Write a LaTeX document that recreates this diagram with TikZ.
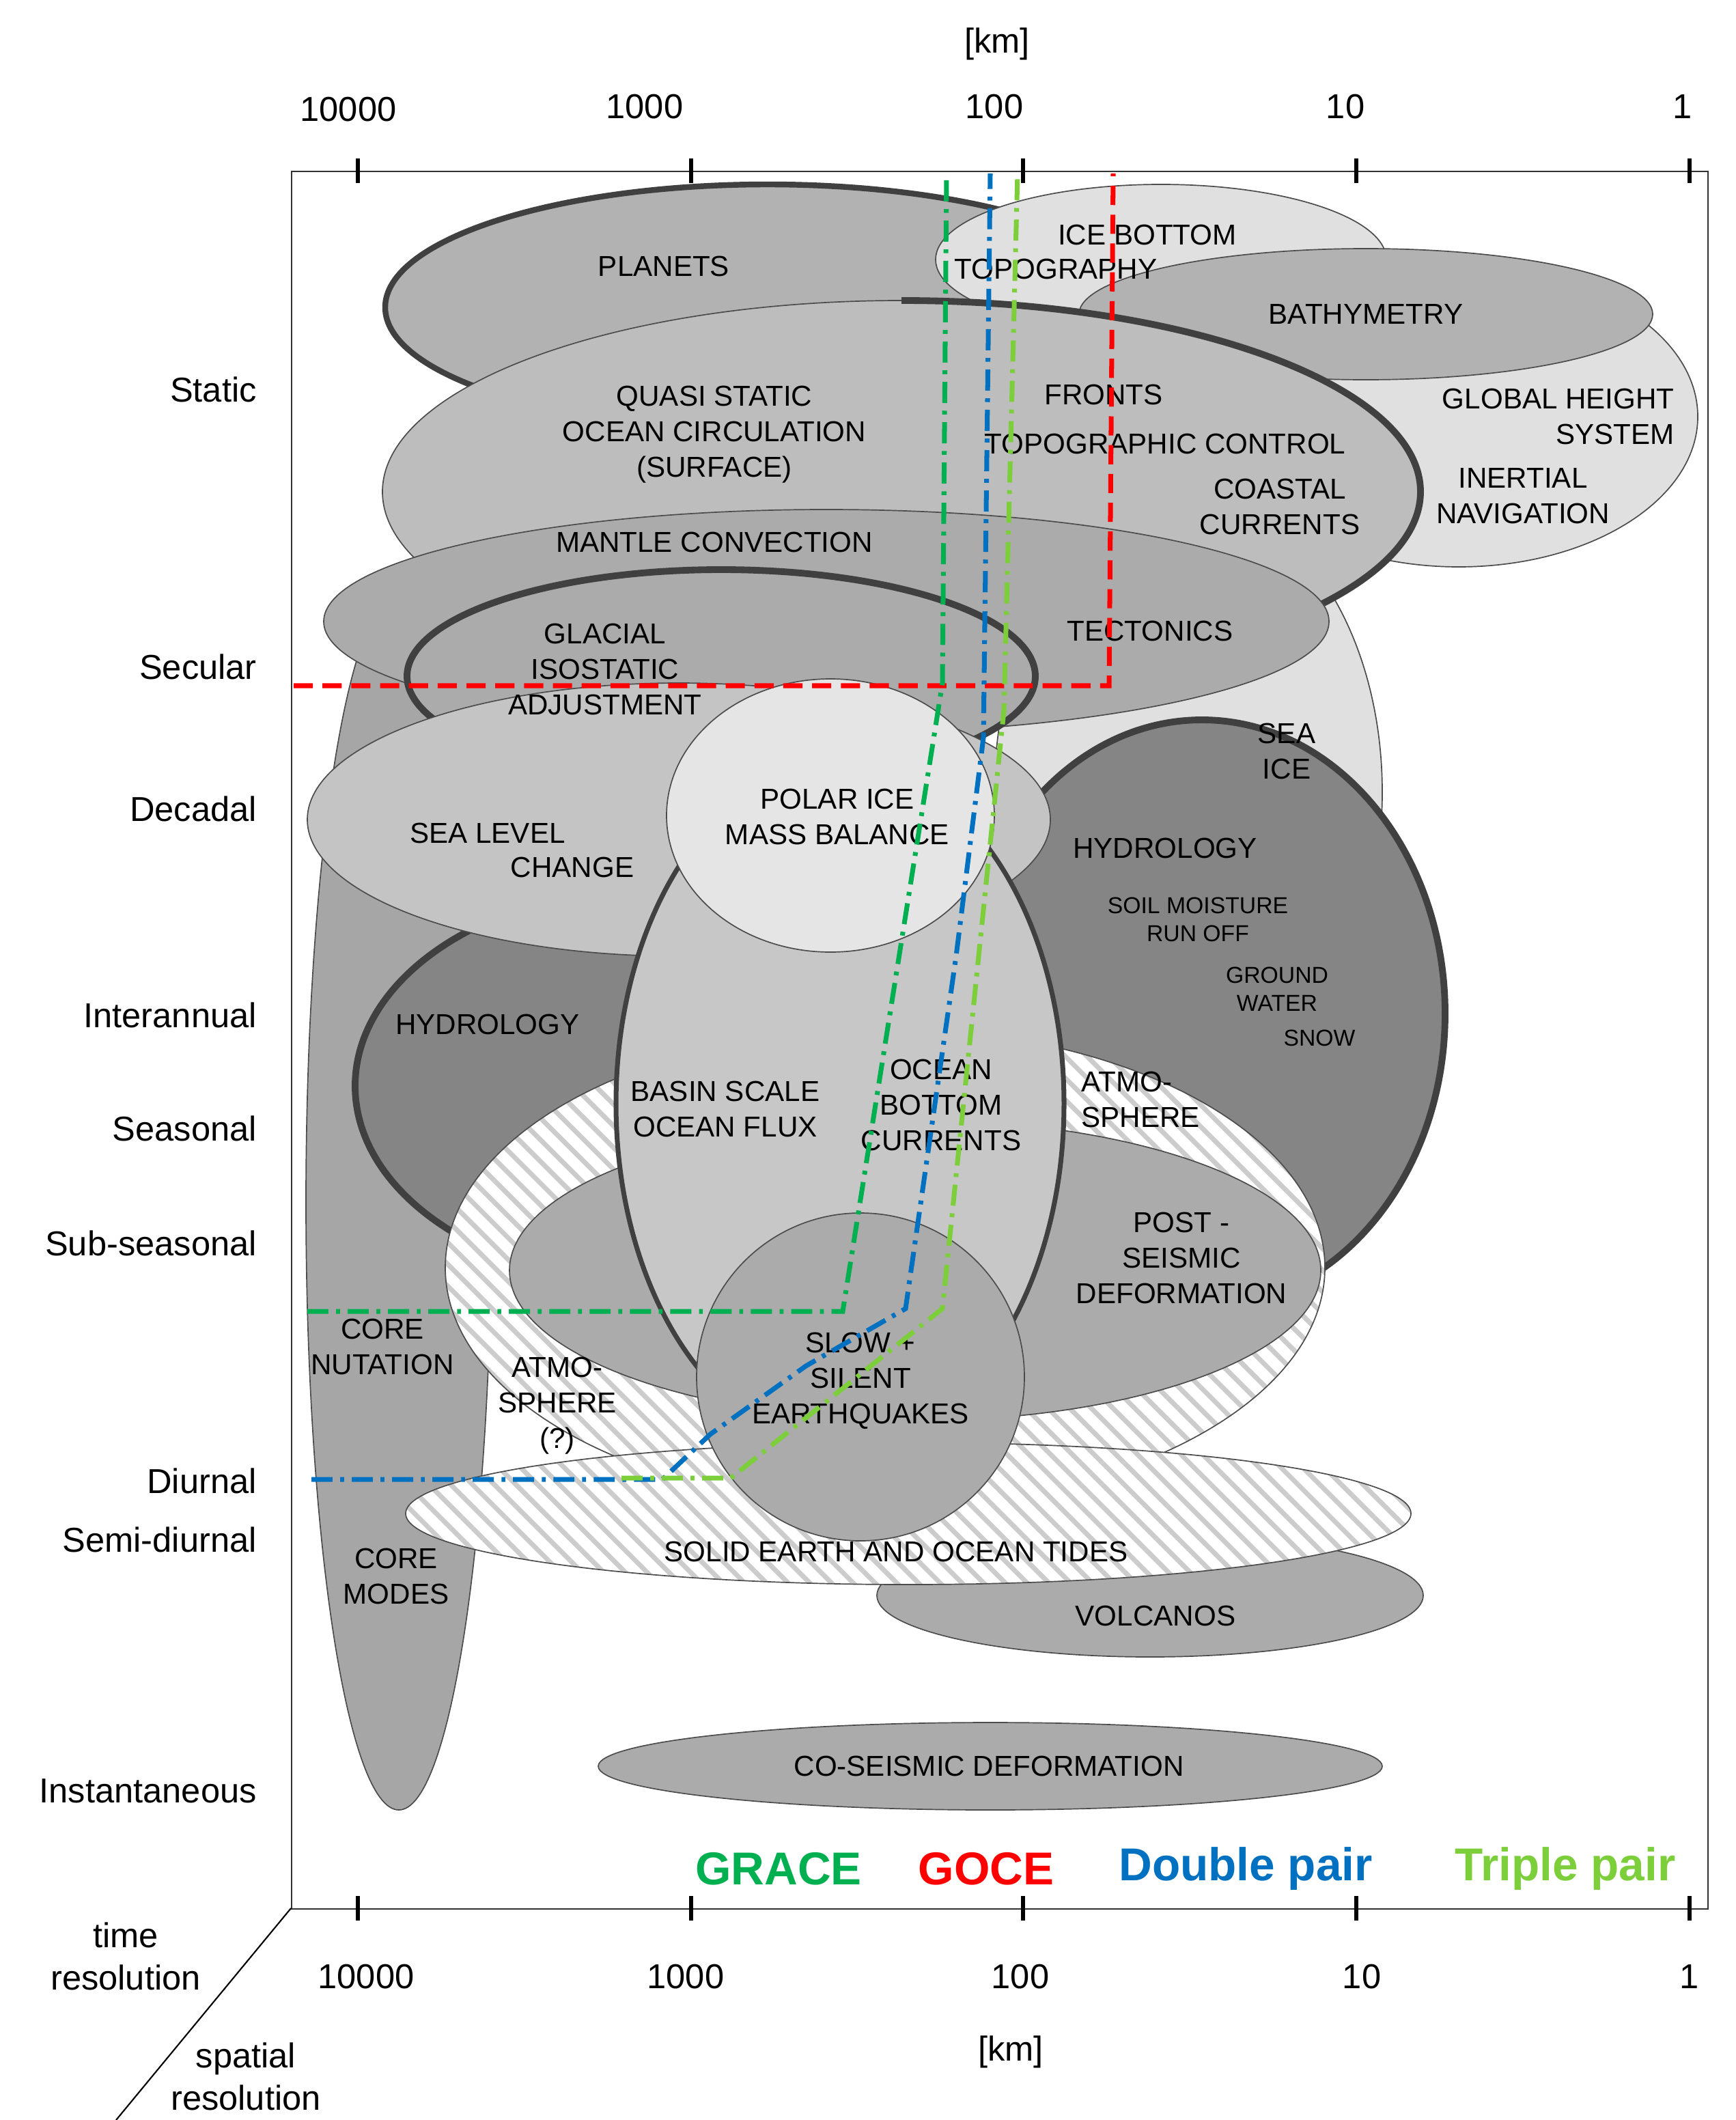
\documentclass[tikz,border=0pt]{standalone}
\usepackage{fontspec}
\setmainfont{Liberation Sans}
\usetikzlibrary{patterns.meta}
\begin{document}
\begin{tikzpicture}[x=0.05cm,y=-0.05cm,
 lab/.style={font=\fontsize{30}{37}\selectfont,align=center,inner sep=0},
 sml/.style={font=\fontsize{24}{29}\selectfont,align=center,inner sep=0},
 ax/.style={font=\fontsize{36}{44}\selectfont,inner sep=0},
 leg/.style={font=\fontsize{48}{56}\selectfont\bfseries,inner sep=0},
 el/.style={draw=black!70,line width=1.2pt},
 thick el/.style={draw=black!75,line width=7pt},
 hatch/.style={el,preaction={fill=white},pattern={Lines[angle=-45,distance=16pt,line width=5pt]},pattern color=black!20},
 tick/.style={line width=4pt},
 grace/.style={draw={rgb,255:red,0;green,176;blue,80},line width=5pt,dash pattern=on 22pt off 8pt on 4pt off 8pt},
 goce/.style={draw=red,line width=5pt,dash pattern=on 20pt off 10pt},
 dbl/.style={draw={rgb,255:red,0;green,112;blue,192},line width=5pt,dash pattern=on 22pt off 8pt on 4pt off 8pt},
 trp/.style={draw={rgb,255:red,124;green,207;blue,58},line width=5pt,dash pattern=on 22pt off 8pt on 4pt off 8pt}]
\useasboundingbox (0,0) rectangle (1271,1552);
% ellipses, back to front
\draw[el,fill=black!35] (292,880) ellipse [x radius=68,y radius=445];
\draw[el,fill=black!12] (1068,305) ellipse [x radius=175,y radius=110];
\draw[el,fill=black!12] (870,580) ellipse [x radius=142,y radius=215];
\draw[el,fill=black!30,line width=6pt,draw=black!75] (562,225) ellipse [x radius=280,y radius=90];
\draw[el,fill=black!12] (850,190) ellipse [x radius=165,y radius=55];
\draw[el,fill=black!30] (1000,230) ellipse [x radius=210,y radius=48];
\draw[el,fill=black!26] (660,360) ellipse [x radius=380,y radius=140];
\draw[thick el] (660,360) ++(-90:140) arc[start angle=-90,end angle=90,x radius=380,y radius=140];
\draw[el,fill=black!33] (605,455) ellipse [x radius=368,y radius=82];
\draw[thick el,fill=black!33] (528,495) ellipse [x radius=230,y radius=78];
\draw[thick el,fill=black!48] (880,742) ellipse [x radius=178,y radius=215];
\draw[thick el,fill=black!48] (480,795) ellipse [x radius=220,y radius=145];
\draw[hatch] (648,928) ellipse [x radius=322,y radius=175];
\draw[el,fill=black!33] (670,930) ellipse [x radius=297,y radius=110];
\draw[el,fill=black!23] (497,600) ellipse [x radius=272,y radius=100];
\draw[thick el,line width=5pt,fill=black!22] (615,808) ellipse [x radius=164,y radius=250];
\draw[el,fill=black!10] (608,597) ellipse [x radius=120,y radius=100];
\draw[el,fill=black!33] (842,1168) ellipse [x radius=200,y radius=45];
\draw[hatch] (665,1108) ellipse [x radius=368,y radius=52];
\draw[el,fill=black!33] (630,1008) circle [radius=120];
\draw[el,fill=black!33] (725,1293) ellipse [x radius=287,y radius=32];
% frame and axes
\node[draw=black!80,line width=1.5pt,minimum width=51.85cm,minimum height=63.6cm,inner sep=0,anchor=north west] (frame) at (213,125) {};
\foreach \x in {262,506,749,993,1237}{
 \draw[tick] (\x,116)--(\x,134);
 \draw[tick] (\x,1388)--(\x,1406);}
\node[ax] (t1) at (255,80) {10000};
\node[ax] (t2) at (472,78) {1000};
\node[ax] (t3) at (728,78) {100};
\node[ax] (t4) at (985,78) {10};
\node[ax] (t5) at (1232,78) {1};
\node[ax] (tk) at (730,32) {[km]};
\node[ax] (b1) at (268,1447) {10000};
\node[ax] (b2) at (502,1447) {1000};
\node[ax] (b3) at (747,1447) {100};
\node[ax] (b4) at (997,1447) {10};
\node[ax] (b5) at (1237,1447) {1};
\node[ax] (bk) at (740,1502) {[km]};
\coordinate (d1) at (213,1397); \coordinate (d2) at (85,1552);
\draw[line width=1.5pt] (d1)--(d2);
\node[ax,align=center,font=\fontsize{36}{44}\selectfont] (tr) at (92,1432) {time\\resolution};
\node[ax,align=center,font=\fontsize{36}{44}\selectfont] (sr) at (180,1520) {spatial\\resolution};
\foreach \n/\y/\t in {s1/285/Static,s2/488/Secular,s3/592/Decadal,s4/743/Interannual,s5/826/Seasonal,s6/910/Sub-seasonal,s7/1084/Diurnal,s8/1127/Semi-diurnal,s9/1311/Instantaneous}
 \node[ax,anchor=east] (\n) at (188,\y) {\t};
% labels
\node[lab] (l1) at (486,195) {PLANETS};
\node[lab] (l2) at (840,172) {ICE BOTTOM};
\node[lab] (l3) at (773,197) {TOPOGRAPHY};
\node[lab] (l4) at (1000,230) {BATHYMETRY};
\node[lab,anchor=east] (l5) at (1226,305) {GLOBAL HEIGHT\\\hfill SYSTEM};
\node[lab] (l6) at (1115,363) {INERTIAL\\NAVIGATION};
\node[lab] (l7) at (523,318) {QUASI STATIC\\OCEAN CIRCULATION\\(SURFACE)};
\node[lab] (l8) at (808,289) {FRONTS};
\node[lab] (l9) at (853,325) {TOPOGRAPHIC CONTROL};
\node[lab] (l10) at (937,371) {COASTAL\\CURRENTS};
\node[lab] (l11) at (523,397) {MANTLE CONVECTION};
\node[lab] (l12) at (842,462) {TECTONICS};
\node[lab] (l13) at (443,490) {GLACIAL\\ISOSTATIC\\ADJUSTMENT};
\node[lab] (l14) at (942,550) {SEA\\ICE};
\node[lab] (l15) at (613,598) {POLAR ICE\\MASS BALANCE};
\node[lab] (l16) at (357,610) {SEA LEVEL};
\node[lab] (l17) at (419,635) {CHANGE};
\node[lab] (l18) at (853,621) {HYDROLOGY};
\node[sml] (l19) at (877,673) {SOIL MOISTURE\\RUN OFF};
\node[sml] (l20) at (935,724) {GROUND\\WATER};
\node[sml] (l21) at (966,760) {SNOW};
\node[lab] (l22) at (357,750) {HYDROLOGY};
\node[lab] (l23) at (531,812) {BASIN SCALE\\OCEAN FLUX};
\node[lab] (l24) at (689,809) {OCEAN\\BOTTOM\\CURRENTS};
\node[lab,align=left] (l25) at (835,805) {ATMO-\\SPHERE};
\node[lab] (l26) at (865,921) {POST -\\SEISMIC\\DEFORMATION};
\node[lab] (l27) at (280,986) {CORE\\NUTATION};
\node[lab] (l28) at (408,1029) {ATMO-\\SPHERE\\(?)};
\node[lab] (l29) at (630,1011) {SLOW +\\SILENT\\EARTHQUAKES};
\node[lab] (l30) at (656,1136) {SOLID EARTH AND OCEAN TIDES};
\node[lab] (l31) at (846,1183) {VOLCANOS};
\node[lab] (l32) at (290,1154) {CORE\\MODES};
\node[lab] (l33) at (724,1293) {CO-SEISMIC DEFORMATION};
% mission lines
\draw[goce] (215,502)--(812,502)--(815,127);
\draw[grace] (225,960)--(617,960)--(690,500)--(693,127);
\draw[dbl] (228,1083)--(485,1083)--(520,1050)--(590,1000)--(663,958)--(700,700)--(720,540)--(725,127);
\draw[trp] (455,1082)--(535,1082)--(690,958)--(735,520)--(745,127);
% legend
\node[leg,text={rgb,255:red,0;green,176;blue,80}] (g1) at (570,1368) {GRACE};
\node[leg,text=red] (g2) at (722,1368) {GOCE};
\node[leg,text={rgb,255:red,0;green,112;blue,192}] (g3) at (912,1368) {Double pair};
\node[leg,text={rgb,255:red,124;green,207;blue,58}] (g4) at (1146,1368) {Triple pair};
\end{tikzpicture}
\end{document}
